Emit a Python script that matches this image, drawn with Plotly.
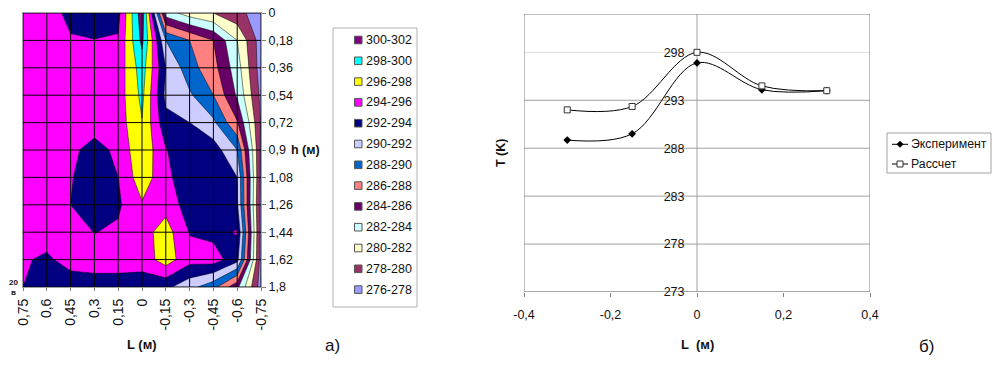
import plotly.graph_objects as go

W, H = 1000, 376
FONT = "Liberation Sans, Arial, sans-serif"

# ---------- left chart data ----------
L_vals = [0.75, 0.6, 0.45, 0.3, 0.15, 0, -0.15, -0.3, -0.45, -0.6, -0.75]
L_text = ["0,75", "0,6", "0,45", "0,3", "0,15", "0", "-0,15", "-0,3", "-0,45", "-0,6", "-0,75"]
h_vals = [0, 0.18, 0.36, 0.54, 0.72, 0.9, 1.08, 1.26, 1.44, 1.62, 1.8]
h_text = ["0", "0,18", "0,36", "0,54", "0,72", "0,9", "1,08", "1,26", "1,44", "1,62", "1,8"]
T_00 = [295, 295, 293.4, 293, 293.4, 301.3, 283, 281, 280, 278.6, 277]
T_18 = [295, 295, 294.2, 294.05, 294.2, 300.5, 290, 288, 286, 282, 277]
T_36 = [295, 295, 295, 295, 294.8, 299, 292, 288.8, 286.7, 282.9, 277]
T_54 = [295, 295, 295, 295, 295, 298.5, 291.5, 290.3, 288, 283.7, 277.5]
T_72 = [295, 295, 295, 295, 295, 297.9, 292.6, 292, 290.4, 286.2, 277.8]
T_90 = [295, 295, 294.5, 293.2, 294.5, 297.6, 294.1, 292.8, 293, 290, 277.6]
T_108 = [295, 295, 294.2, 292.5, 294, 297.2, 294.5, 292.7, 292.7, 292, 277.4]
T_126 = [295, 295, 294, 292.5, 293.7, 295.8, 295.3, 293, 292.5, 292.3, 277]
T_144 = [295, 294.8, 295, 293.95, 294.3, 295.2, 296.9, 293.9, 293.4, 294.2, 277]
T_162 = [294.2, 293.7, 294.7, 295, 295, 294.8, 297, 294.7, 295, 292.7, 277]
T_180 = [294, 293, 293, 293, 293, 293, 292.5, 290.7, 288.7, 284.5, 277]

band_names = ["300-302", "298-300", "296-298", "294-296", "292-294", "290-292", "288-290",
              "286-288", "284-286", "282-284", "280-282", "278-280", "276-278"]
band_colors = ["#800080", "#00ffff", "#ffff00", "#ff00ff", "#000080", "#ccccff", "#0066cc",
               "#ff8080", "#660066", "#ccffff", "#ffffcc", "#993366", "#9999ff"]

# ---------- right chart data ----------
x_pts = [-0.3, -0.15, 0, 0.15, 0.3]
exp_T = [288.85, 289.5, 296.9, 294.1, 294.0]
calc_T = [292.0, 292.35, 298.0, 294.5, 294.0]
series_names = ["Эксперимент", "Рассчет"]
right_xticks = [-0.4, -0.2, 0, 0.2, 0.4]
right_xtext = ["-0,4", "-0,2", "0", "0,2", "0,4"]
right_yticks = [273, 278, 283, 288, 293, 298]


def px_x(a, b):
    return [a / W, b / W]


def px_y(top, bottom):
    return [1 - bottom / H, 1 - top / H]


def fx(px):
    return px / W


def fy(py):
    return 1 - py / H


fig = go.Figure()

levels = list(reversed(band_colors))
n = len(levels)
cs = []
for i, c in enumerate(levels):
    cs += [[i / n, c], [(i + 1) / n, c]]

fig.add_trace(go.Contour(
    x=L_vals, y=h_vals,
    z=[T_00, T_18, T_36, T_54, T_72, T_90, T_108, T_126, T_144, T_162, T_180],
    colorscale=cs, zmin=276, zmax=302, zauto=False, autocontour=False,
    contours=dict(start=276, end=302, size=2, coloring="fill", showlabels=False),
    line=dict(color="#000000", width=0.5, smoothing=0),
    showscale=False, hoverinfo="skip", showlegend=False,
    xaxis="x", yaxis="y",
))

fig.add_trace(go.Scatter(
    x=x_pts, y=exp_T, name=series_names[0], mode="lines+markers", xaxis="x2", yaxis="y2", showlegend=False,
    line=dict(color="black", width=1, shape="spline", smoothing=1),
    marker=dict(symbol="diamond", size=6, color="black"),
))
fig.add_trace(go.Scatter(
    x=x_pts, y=calc_T, name=series_names[1], mode="lines+markers", xaxis="x2", yaxis="y2", showlegend=False,
    line=dict(color="black", width=1, shape="spline", smoothing=1),
    marker=dict(symbol="square", size=6, color="white", line=dict(color="#333333", width=1)),
))

shapes = []
for v in L_vals:
    shapes.append(dict(type="line", xref="x", yref="y", x0=v, x1=v, y0=h_vals[0], y1=h_vals[-1],
                       line=dict(color="#000000", width=1), layer="above"))
for v in h_vals:
    shapes.append(dict(type="line", xref="x", yref="y", x0=L_vals[0], x1=L_vals[-1], y0=v, y1=v,
                       line=dict(color="#000000", width=1), layer="above"))
for v in right_yticks:
    shapes.append(dict(type="line", xref="x2", yref="y2", x0=-0.4, x1=0.4, y0=v, y1=v, layer="below",
                       line=dict(color="#e0e0e0" if v == 298 else "#a0a0a0", width=1)))
shapes.append(dict(type="line", xref="x2", yref="y2", x0=0, x1=0, y0=273, y1=302, layer="below",
                   line=dict(color="#a0a0a0", width=1)))
shapes.append(dict(type="rect", xref="x2", yref="y2", x0=-0.4, x1=0.4, y0=273, y1=302, layer="below",
                   line=dict(color="#808080", width=1)))
shapes.append(dict(type="rect", xref="paper", yref="paper", x0=fx(333), x1=fx(417),
                   y0=fy(307), y1=fy(28), layer="below", line=dict(color="#b0b0b0", width=1)))
shapes.append(dict(type="rect", xref="paper", yref="paper", x0=fx(887), x1=fx(991),
                   y0=fy(173), y1=fy(133), layer="below", line=dict(color="#a0a0a0", width=1)))

tick = dict(family=FONT, size=12.5, color="#111111")


def text(x, y, s, size=12.5, bold=False, rot=0, anchor="center"):
    return dict(xref="paper", yref="paper", x=fx(x), y=fy(y), text=f"<b>{s}</b>" if bold else s,
                showarrow=False, textangle=rot, xanchor=anchor, yanchor="middle",
                xshift=0, font=dict(family=FONT, size=size, color="#111111"))


annotations = [
    text(142, 344, "L (м)", 13, True),
    text(305, 150, "h (м)", 12.5, True),
    text(332, 345, "а)", 17),
    text(926, 346, "б)", 17),
    text(501, 153, "T (K)", 12.5, True, -90),
    text(697, 344, "L  (м)", 13, True),
    text(13, 282, "20", 8, True),
    text(13, 292, "в", 8, True),
]

# colour key of the contour plot
for i, (name, color) in enumerate(zip(band_names, band_colors)):
    yc = 40 + 20.8 * i
    shapes.append(dict(type="rect", xref="paper", yref="paper", x0=fx(354.5), x1=fx(362),
                       y0=fy(yc + 3.8), y1=fy(yc - 3.8), fillcolor=color, layer="above",
                       line=dict(color="#555555", width=1)))
    annotations.append(text(363.5, yc, name, 12.5, anchor="left"))

# key of the line chart
for i, name in enumerate(series_names):
    yc = 144.3 + 19.7 * i
    shapes.append(dict(type="line", xref="paper", yref="paper", x0=fx(892), x1=fx(908), y0=fy(yc), y1=fy(yc),
                       line=dict(color="black", width=1), layer="above"))
    annotations.append(text(908.5, yc, name, 12.3, anchor="left"))
xm, ym = 900, 144.3
shapes.append(dict(type="path", xref="paper", yref="paper", layer="above", fillcolor="black",
                   line=dict(color="black", width=1),
                   path=f"M {fx(xm-3)} {fy(ym)} L {fx(xm)} {fy(ym-3)} L {fx(xm+3)} {fy(ym)} L {fx(xm)} {fy(ym+3)} Z"))
ym = 164
shapes.append(dict(type="rect", xref="paper", yref="paper", layer="above", fillcolor="white",
                   x0=fx(xm - 3), x1=fx(xm + 3), y0=fy(ym + 3), y1=fy(ym - 3),
                   line=dict(color="#333333", width=1)))

fig.update_layout(
    width=W, height=H, autosize=False, margin=dict(l=0, r=0, t=0, b=0, autoexpand=False),
    paper_bgcolor="white", plot_bgcolor="white", font=dict(family=FONT, size=12.5, color="#111111"),
    shapes=shapes, annotations=annotations, hovermode=False, showlegend=False,
    xaxis=dict(domain=px_x(23, 261), range=[0.75, -0.75], tickmode="array", tickvals=L_vals, ticktext=L_text,
               tickangle=-90, ticks="outside", ticklen=3, tickcolor="#808080", showgrid=False, zeroline=False,
               showline=True, linecolor="#a0a0a0", mirror=True, tickfont=dict(family=FONT, size=14, color="#111111"),
               ticklabelstandoff=2, anchor="y"),
    yaxis=dict(domain=px_y(13, 287), range=[1.8, 0], tickmode="array", tickvals=h_vals, ticktext=h_text,
               side="right", ticks="outside", ticklen=4, tickcolor="#808080", showgrid=False, zeroline=False,
               showline=True, linecolor="#a0a0a0", mirror=True, tickfont=tick, anchor="x"),
    xaxis2=dict(domain=px_x(524, 870), range=[-0.4, 0.4], tickmode="array", tickvals=right_xticks,
                ticktext=right_xtext, ticks="outside", ticklen=4, tickcolor="#808080", showgrid=False,
                zeroline=False, tickfont=tick, ticklabelstandoff=7, anchor="y2"),
    yaxis2=dict(domain=px_y(14, 292), range=[273, 302], tickmode="array", tickvals=right_yticks,
                anchor="free", position=697 / W, showgrid=False, zeroline=False, ticks="outside", ticklen=10,
                tickcolor="rgba(0,0,0,0)", tickfont=tick),
)

fig.write_html("out.html", config={"displayModeBar": False}, post_script="document.body.style.margin='0';")
